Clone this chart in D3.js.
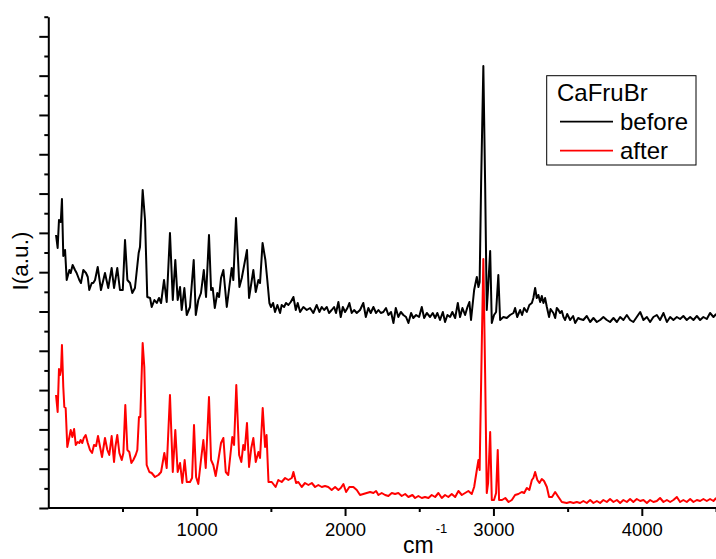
<!DOCTYPE html>
<html><head><meta charset="utf-8">
<script src="https://cdn.jsdelivr.net/npm/d3@7"></script>
<style>html,body{margin:0;padding:0;background:#fff;}svg{display:block;}</style>
</head><body>
<svg id="chart" width="716" height="559"></svg>
<script>
// Raman spectra, intensity in arbitrary units
const beforeSpectrum = [[52,273],[63,260],[72,288],[84,286],[92,309],[101,252],[113,258],[124,228],[142,238],[151,235],[164,243],[180,238],[191,235],[209,228],[220,225],[236,238],[254,235],[266,231],[276,218],[293,225],[303,225],[315,228],[333,241],[355,218],[382,235],[404,220],[427,240],[443,220],[465,240],[483,218],[502,218],[517,268],[533,228],[551,225],[566,215],[584,220],[609,255],[618,261],[636,318],[652,288],[667,211],[686,210],[697,201],[715,208],[731,205],[746,210],[760,205],[780,228],[798,206],[820,275],[839,208],[856,248],[872,208],[888,221],[899,198],[917,220],[933,193],[955,201],[980,248],[994,193],[1011,208],[1029,215],[1048,238],[1063,211],[1083,273],[1097,218],[1108,220],[1122,200],[1139,215],[1151,211],[1164,230],[1180,238],[1203,201],[1236,240],[1247,228],[1265,290],[1288,221],[1304,230],[1339,258],[1353,210],[1382,238],[1398,216],[1416,228],[1427,225],[1444,265],[1463,248],[1476,228],[1490,205],[1501,201],[1515,205],[1528,196],[1544,203],[1562,195],[1573,203],[1589,201],[1602,205],[1618,203],[1634,206],[1652,211],[1668,198],[1681,205],[1697,196],[1719,201],[1742,198],[1764,200],[1786,195],[1809,203],[1827,196],[1843,201],[1859,198],[1877,201],[1892,195],[1910,198],[1926,201],[1939,195],[1955,206],[1971,191],[1985,201],[2000,196],[2016,200],[2029,205],[2045,195],[2061,198],[2079,195],[2101,198],[2123,205],[2140,191],[2157,200],[2173,195],[2191,201],[2209,195],[2225,198],[2241,195],[2258,196],[2276,200],[2292,193],[2310,196],[2326,185],[2342,200],[2359,191],[2376,196],[2393,193],[2411,191],[2427,185],[2445,195],[2460,190],[2479,193],[2499,191],[2517,201],[2533,190],[2551,195],[2573,191],[2591,195],[2607,190],[2622,195],[2640,188],[2659,196],[2674,186],[2690,193],[2708,191],[2723,196],[2742,190],[2760,205],[2775,191],[2791,200],[2809,193],[2825,201],[2838,206],[2849,188],[2870,218],[2888,231],[2899,221],[2907,226],[2917,325],[2932,442],[2944,325],[2955,198],[2964,220],[2978,257],[2989,185],[3004,193],[3018,196],[3033,233],[3045,188],[3067,191],[3090,190],[3112,193],[3135,195],[3146,200],[3160,191],[3180,198],[3193,193],[3207,200],[3225,196],[3242,203],[3259,205],[3269,210],[3281,220],[3292,210],[3303,213],[3315,206],[3326,212],[3337,205],[3348,210],[3360,201],[3375,191],[3385,199],[3404,195],[3416,190],[3427,200],[3438,198],[3449,195],[3461,197],[3472,191],[3483,188],[3497,194],[3517,188],[3537,192],[3551,185],[3571,190],[3584,189],[3606,188],[3629,192],[3652,186],[3674,190],[3697,186],[3719,188],[3741,191],[3764,188],[3786,186],[3809,190],[3832,186],[3854,191],[3876,188],[3899,193],[3921,188],[3943,186],[3966,191],[3989,196],[4011,188],[4034,191],[4056,186],[4078,191],[4101,193],[4123,188],[4146,195],[4169,186],[4191,191],[4213,188],[4236,191],[4258,189],[4280,192],[4303,188],[4326,191],[4348,188],[4371,192],[4393,188],[4415,191],[4438,189],[4460,195],[4483,191],[4501,194]];

const afterSpectrum = [[52,113],[63,96],[72,139],[79,133],[86,139],[92,163],[101,121],[108,101],[117,100],[128,61],[142,71],[151,78],[162,71],[174,79],[185,63],[198,66],[209,65],[218,68],[229,65],[239,70],[252,73],[266,65],[281,58],[295,55],[308,63],[322,62],[335,72],[349,61],[362,51],[382,70],[398,58],[411,53],[427,72],[443,46],[452,61],[465,73],[479,55],[495,48],[506,55],[519,103],[533,58],[546,56],[560,45],[573,48],[589,53],[600,58],[611,91],[620,91],[636,165],[647,141],[663,43],[681,36],[697,35],[719,31],[742,33],[760,36],[782,55],[798,40],[820,113],[839,36],[856,78],[872,36],[888,45],[903,25],[919,48],[933,26],[955,26],[969,30],[982,83],[996,31],[1011,24],[1029,48],[1045,68],[1061,40],[1083,111],[1097,48],[1112,43],[1128,32],[1146,48],[1164,65],[1180,70],[1196,36],[1213,33],[1240,71],[1252,63],[1267,123],[1286,53],[1301,46],[1314,63],[1324,58],[1339,85],[1353,41],[1368,60],[1382,70],[1398,46],[1416,56],[1427,50],[1445,100],[1461,61],[1471,73],[1484,26],[1506,26],[1532,21],[1550,28],[1573,26],[1596,30],[1618,28],[1641,30],[1652,36],[1670,25],[1685,26],[1708,21],[1730,25],[1753,23],[1776,25],[1798,21],[1820,23],[1843,21],[1865,22],[1887,21],[1910,18],[1933,21],[1955,18],[1971,20],[1989,24],[2007,16],[2029,21],[2056,21],[2079,18],[2101,13],[2123,14],[2146,15],[2169,16],[2191,15],[2209,17],[2225,13],[2247,15],[2270,13],[2292,12],[2315,15],[2337,14],[2359,15],[2382,12],[2405,14],[2427,11],[2454,13],[2472,10],[2494,12],[2517,10],[2539,11],[2562,10],[2584,13],[2607,11],[2629,15],[2652,10],[2674,13],[2696,11],[2719,14],[2742,11],[2764,17],[2787,13],[2809,15],[2831,17],[2854,14],[2870,21],[2888,38],[2899,48],[2907,38],[2922,168],[2932,249],[2944,135],[2955,15],[2964,25],[2978,76],[2989,8],[3004,8],[3018,15],[3029,58],[3038,8],[3058,8],[3080,10],[3102,6],[3124,8],[3146,13],[3168,14],[3191,16],[3207,15],[3225,20],[3242,18],[3259,28],[3269,30],[3281,36],[3296,28],[3310,25],[3326,29],[3341,27],[3360,21],[3375,11],[3395,11],[3416,16],[3438,11],[3461,6],[3494,5],[3517,6],[3539,5],[3562,6],[3584,5],[3606,7],[3629,5],[3652,8],[3674,5],[3697,7],[3719,5],[3741,8],[3764,6],[3786,9],[3809,6],[3832,8],[3854,5],[3876,8],[3899,6],[3921,9],[3943,6],[3966,9],[3989,7],[4011,8],[4034,5],[4056,8],[4078,6],[4101,7],[4123,10],[4146,6],[4169,8],[4191,6],[4213,8],[4236,11],[4258,6],[4280,8],[4303,6],[4326,9],[4348,6],[4371,8],[4393,7],[4415,9],[4438,7],[4460,9],[4483,7],[4501,10]];

const seriesNames = ["before", "after"];
const seriesColors = ["#000000", "#ff0000"];
const legendTitle = "CaFruBr";
const xMajorTicks = [1000, 2000, 3000, 4000];
const xMinorTicks = [500, 1500, 2500, 3500, 4500];
const xLabel = "cm";
const xLabelSup = "-1";
const yLabel = "I(a.u.)";

(function () {
const FONT = "'Liberation Sans', Arial, sans-serif";
const svg = d3.select("#chart");
const mLeft = 48.3, mRight = 716, mTop = 16.7, mBottom = 508;
const yMax = 491.3, yTickCount = 25;

const x = d3.scaleLinear().domain([0, 4500]).range([mLeft, mRight]);
const y = d3.scaleLinear().domain([0, yMax]).range([mBottom, mTop]);

const g = svg.append("g");

// spectra
const line = d3.line().x(d => x(d[0])).y(d => y(d[1]));
[beforeSpectrum, afterSpectrum].forEach((s, i) => {
  g.append("path").datum(s)
    .attr("fill", "none").attr("stroke", seriesColors[i])
    .attr("stroke-width", 2).attr("stroke-linejoin", "round")
    .attr("d", line);
});

// y axis ticks (no labels)
const yStep = yMax / yTickCount;
const yAll = d3.range(yTickCount + 1).map(i => i * yStep);
const yMajor = yAll.filter((v, i) => i % 2 === 0);
const yMinor = yAll.filter((v, i) => i % 2 === 1);

function styleAxis(sel) {
  sel.selectAll("path").attr("stroke", "#000").attr("stroke-width", 2);
  sel.selectAll("line").attr("stroke", "#000").attr("stroke-width", 2);
}

const yAxMinor = g.append("g").attr("transform", `translate(${mLeft},0)`)
  .call(d3.axisLeft(y).tickValues(yMinor).tickSize(4).tickSizeOuter(0).tickFormat(""));
yAxMinor.select(".domain").remove();
styleAxis(yAxMinor);
const yAxMajor = g.append("g").attr("transform", `translate(${mLeft},0)`)
  .call(d3.axisLeft(y).tickValues(yMajor).tickSize(9).tickSizeOuter(0).tickFormat(""));
styleAxis(yAxMajor);

// x axis
const xAxMinor = g.append("g").attr("transform", `translate(0,${mBottom})`)
  .call(d3.axisBottom(x).tickValues(xMinorTicks).tickSize(4).tickSizeOuter(0).tickFormat(""));
xAxMinor.select(".domain").remove();
styleAxis(xAxMinor);
const xAxMajor = g.append("g").attr("transform", `translate(0,${mBottom})`)
  .call(d3.axisBottom(x).tickValues(xMajorTicks).tickSize(8).tickSizeOuter(0).tickPadding(7).tickFormat(d3.format("d")));
styleAxis(xAxMajor);
xAxMajor.selectAll("text").attr("font-family", FONT).attr("font-size", 18.5).attr("fill", "#000");
xAxMajor.select(".domain").attr("d", `M${mLeft},0H${mRight + 2}`);

// axis titles
const xt = g.append("text").attr("x", 403).attr("y", 553)
  .attr("font-family", FONT).attr("font-size", 23).attr("fill", "#000");
xt.append("tspan").text(xLabel);
xt.append("tspan").attr("font-size", 13).attr("dy", -20).attr("dx", 2).text(xLabelSup);

g.append("text").attr("transform", `translate(28,261) rotate(-90)`)
  .attr("text-anchor", "middle").attr("font-family", FONT).attr("font-size", 22.5)
  .attr("fill", "#000").text(yLabel);

// legend
const lg = g.append("g");
lg.append("rect").attr("x", 546.7).attr("y", 75.7).attr("width", 149.3).attr("height", 89.3)
  .attr("fill", "#fff").attr("stroke", "#000").attr("stroke-width", 1);
lg.append("text").attr("x", 557).attr("y", 100.5).attr("font-family", FONT)
  .attr("font-size", 24).attr("fill", "#000").text(legendTitle);
seriesNames.forEach((n, i) => {
  const yy = 121.7 + i * 29;
  lg.append("line").attr("x1", 560).attr("x2", 613).attr("y1", yy).attr("y2", yy)
    .attr("stroke", seriesColors[i]).attr("stroke-width", 1.8);
  lg.append("text").attr("x", 620).attr("y", yy + 8.5).attr("font-family", FONT)
    .attr("font-size", 24).attr("fill", "#000").text(n);
});
})();
</script>
</body></html>
